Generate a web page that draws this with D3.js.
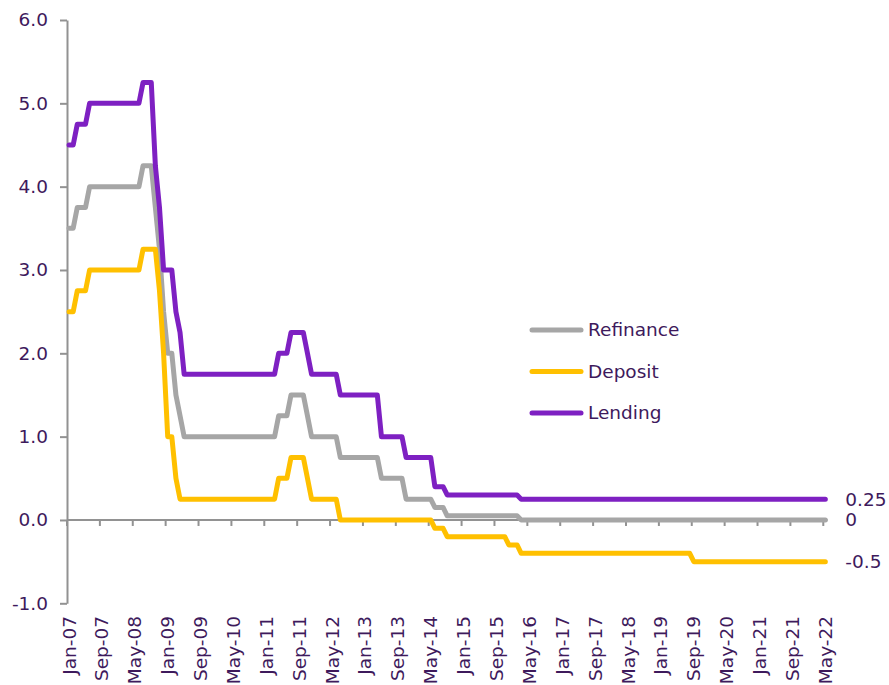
<!DOCTYPE html>
<html>
<head>
<meta charset="utf-8">
<script src="https://cdn.jsdelivr.net/npm/d3@7"></script>
<style>
  html, body { margin: 0; padding: 0; background: #fff; }
  svg { display: block; }
  text { font-family: "DejaVu Sans", Verdana, sans-serif; }
</style>
</head>
<body>
<svg id="chart" width="889" height="685"></svg>
<script>
// Monthly categories, Jan 2007 to May 2022
const categories = d3.utcMonth
  .range(new Date(Date.UTC(2007, 0, 1)), new Date(Date.UTC(2022, 5, 1)))
  .map(d3.utcFormat("%b-%y"));

// Axis labels shown every eighth month
const tickLabels = [
  "Jan-07", "Sep-07", "May-08", "Jan-09", "Sep-09", "May-10", "Jan-11", "Sep-11",
  "May-12", "Jan-13", "Sep-13", "May-14", "Jan-15", "Sep-15", "May-16", "Jan-17",
  "Sep-17", "May-18", "Jan-19", "Sep-19", "May-20", "Jan-21", "Sep-21", "May-22"
];
const yTicks = [-1, 0, 1, 2, 3, 4, 5, 6];

// Policy rates (%), month-end, one row per year
const refinance = [
  3.5, 3.5, 3.75, 3.75, 3.75, 4, 4, 4, 4, 4, 4, 4,
  4, 4, 4, 4, 4, 4, 4.25, 4.25, 4.25, 3.75, 3.25, 2.5,
  2, 2, 1.5, 1.25, 1, 1, 1, 1, 1, 1, 1, 1,
  1, 1, 1, 1, 1, 1, 1, 1, 1, 1, 1, 1,
  1, 1, 1, 1.25, 1.25, 1.25, 1.5, 1.5, 1.5, 1.5, 1.25, 1,
  1, 1, 1, 1, 1, 1, 0.75, 0.75, 0.75, 0.75, 0.75, 0.75,
  0.75, 0.75, 0.75, 0.75, 0.5, 0.5, 0.5, 0.5, 0.5, 0.5, 0.25, 0.25,
  0.25, 0.25, 0.25, 0.25, 0.25, 0.15, 0.15, 0.15, 0.05, 0.05, 0.05, 0.05,
  0.05, 0.05, 0.05, 0.05, 0.05, 0.05, 0.05, 0.05, 0.05, 0.05, 0.05, 0.05,
  0.05, 0.05, 0, 0, 0, 0, 0, 0, 0, 0, 0, 0,
  0, 0, 0, 0, 0, 0, 0, 0, 0, 0, 0, 0,
  0, 0, 0, 0, 0, 0, 0, 0, 0, 0, 0, 0,
  0, 0, 0, 0, 0, 0, 0, 0, 0, 0, 0, 0,
  0, 0, 0, 0, 0, 0, 0, 0, 0, 0, 0, 0,
  0, 0, 0, 0, 0, 0, 0, 0, 0, 0, 0, 0,
  0, 0, 0, 0, 0
];

const deposit = [
  2.5, 2.5, 2.75, 2.75, 2.75, 3, 3, 3, 3, 3, 3, 3,
  3, 3, 3, 3, 3, 3, 3.25, 3.25, 3.25, 3.25, 2.75, 2,
  1, 1, 0.5, 0.25, 0.25, 0.25, 0.25, 0.25, 0.25, 0.25, 0.25, 0.25,
  0.25, 0.25, 0.25, 0.25, 0.25, 0.25, 0.25, 0.25, 0.25, 0.25, 0.25, 0.25,
  0.25, 0.25, 0.25, 0.5, 0.5, 0.5, 0.75, 0.75, 0.75, 0.75, 0.5, 0.25,
  0.25, 0.25, 0.25, 0.25, 0.25, 0.25, 0, 0, 0, 0, 0, 0,
  0, 0, 0, 0, 0, 0, 0, 0, 0, 0, 0, 0,
  0, 0, 0, 0, 0, -0.1, -0.1, -0.1, -0.2, -0.2, -0.2, -0.2,
  -0.2, -0.2, -0.2, -0.2, -0.2, -0.2, -0.2, -0.2, -0.2, -0.2, -0.2, -0.3,
  -0.3, -0.3, -0.4, -0.4, -0.4, -0.4, -0.4, -0.4, -0.4, -0.4, -0.4, -0.4,
  -0.4, -0.4, -0.4, -0.4, -0.4, -0.4, -0.4, -0.4, -0.4, -0.4, -0.4, -0.4,
  -0.4, -0.4, -0.4, -0.4, -0.4, -0.4, -0.4, -0.4, -0.4, -0.4, -0.4, -0.4,
  -0.4, -0.4, -0.4, -0.4, -0.4, -0.4, -0.4, -0.4, -0.5, -0.5, -0.5, -0.5,
  -0.5, -0.5, -0.5, -0.5, -0.5, -0.5, -0.5, -0.5, -0.5, -0.5, -0.5, -0.5,
  -0.5, -0.5, -0.5, -0.5, -0.5, -0.5, -0.5, -0.5, -0.5, -0.5, -0.5, -0.5,
  -0.5, -0.5, -0.5, -0.5, -0.5
];

const lending = [
  4.5, 4.5, 4.75, 4.75, 4.75, 5, 5, 5, 5, 5, 5, 5,
  5, 5, 5, 5, 5, 5, 5.25, 5.25, 5.25, 4.25, 3.75, 3,
  3, 3, 2.5, 2.25, 1.75, 1.75, 1.75, 1.75, 1.75, 1.75, 1.75, 1.75,
  1.75, 1.75, 1.75, 1.75, 1.75, 1.75, 1.75, 1.75, 1.75, 1.75, 1.75, 1.75,
  1.75, 1.75, 1.75, 2, 2, 2, 2.25, 2.25, 2.25, 2.25, 2, 1.75,
  1.75, 1.75, 1.75, 1.75, 1.75, 1.75, 1.5, 1.5, 1.5, 1.5, 1.5, 1.5,
  1.5, 1.5, 1.5, 1.5, 1, 1, 1, 1, 1, 1, 0.75, 0.75,
  0.75, 0.75, 0.75, 0.75, 0.75, 0.4, 0.4, 0.4, 0.3, 0.3, 0.3, 0.3,
  0.3, 0.3, 0.3, 0.3, 0.3, 0.3, 0.3, 0.3, 0.3, 0.3, 0.3, 0.3,
  0.3, 0.3, 0.25, 0.25, 0.25, 0.25, 0.25, 0.25, 0.25, 0.25, 0.25, 0.25,
  0.25, 0.25, 0.25, 0.25, 0.25, 0.25, 0.25, 0.25, 0.25, 0.25, 0.25, 0.25,
  0.25, 0.25, 0.25, 0.25, 0.25, 0.25, 0.25, 0.25, 0.25, 0.25, 0.25, 0.25,
  0.25, 0.25, 0.25, 0.25, 0.25, 0.25, 0.25, 0.25, 0.25, 0.25, 0.25, 0.25,
  0.25, 0.25, 0.25, 0.25, 0.25, 0.25, 0.25, 0.25, 0.25, 0.25, 0.25, 0.25,
  0.25, 0.25, 0.25, 0.25, 0.25, 0.25, 0.25, 0.25, 0.25, 0.25, 0.25, 0.25,
  0.25, 0.25, 0.25, 0.25, 0.25
];

const seriesNames = ["Refinance", "Deposit", "Lending"];
const seriesColors = ["#a6a6a6", "#ffc000", "#7e20c2"];
const seriesValues = [refinance, deposit, lending];

// Layout
const textColor = "#3e1a5c";
const axisColor = "#929292";
const fontSize = 18.5;
const plotLeft = 67, plotRight = 827.4, plotTop = 20, plotBottom = 603.3;

const svg = d3.select("#chart");
svg.append("rect").attr("width", 889).attr("height", 685).attr("fill", "#fff");

const x = d3.scaleBand().domain(categories).range([plotLeft, plotRight]).padding(0);
const xc = c => x(c) + x.bandwidth() / 2;
const y = d3.scaleLinear().domain([-1, 6]).range([plotBottom, plotTop]);

// One decimal, plain hyphen for negatives
const fmtY = d => d3.format(".1f")(d).replace("\u2212", "-");

// Y axis
const yAxis = svg.append("g")
  .attr("transform", `translate(${plotLeft},0)`)
  .call(d3.axisLeft(y).tickValues(yTicks).tickSize(7).tickSizeOuter(0)
    .tickPadding(12).tickFormat(fmtY));
yAxis.select(".domain").attr("stroke", axisColor).attr("stroke-width", 2);
yAxis.selectAll(".tick line").attr("stroke", axisColor).attr("stroke-width", 2);
yAxis.selectAll(".tick text")
  .attr("fill", textColor)
  .style("font-size", fontSize + "px")
  .style("font-family", "'DejaVu Sans', Verdana, sans-serif");

// X axis along zero, ticks on month boundaries
const xAxis = svg.append("g");
xAxis.append("line")
  .attr("x1", plotLeft).attr("x2", plotRight)
  .attr("y1", y(0)).attr("y2", y(0))
  .attr("stroke", axisColor).attr("stroke-width", 2);
xAxis.selectAll("line.tick")
  .data(tickLabels)
  .join("line")
  .attr("class", "tick")
  .attr("x1", d => x(d)).attr("x2", d => x(d))
  .attr("y1", y(0)).attr("y2", y(0) + 6)
  .attr("stroke", axisColor).attr("stroke-width", 2);
xAxis.selectAll("text")
  .data(tickLabels)
  .join("text")
  .attr("transform", d => `translate(${xc(d)},616) rotate(-90)`)
  .attr("text-anchor", "end")
  .attr("dy", "0.35em")
  .attr("fill", textColor)
  .style("font-size", fontSize + "px")
  .text(d => d);

// Rate lines
const line = d3.line()
  .x((d, i) => xc(categories[i]))
  .y(d => y(d));

svg.append("g")
  .selectAll("path")
  .data(seriesValues)
  .join("path")
  .attr("d", d => line(d))
  .attr("fill", "none")
  .attr("stroke", (d, i) => seriesColors[i])
  .attr("stroke-width", 5)
  .attr("stroke-linejoin", "round")
  .attr("stroke-linecap", "round");

// Latest values at the right end
const last = categories[categories.length - 1];
svg.append("g")
  .selectAll("text")
  .data(seriesValues)
  .join("text")
  .attr("x", xc(last) + 20)
  .attr("y", d => y(d[d.length - 1]))
  .attr("dy", "0.35em")
  .attr("fill", textColor)
  .style("font-size", fontSize + "px")
  .text(d => String(d[d.length - 1]));

// Legend
const legend = svg.append("g").attr("transform", "translate(532,330)");
const item = legend.selectAll("g")
  .data(seriesNames)
  .join("g")
  .attr("transform", (d, i) => `translate(0,${i * 41.5})`);
item.append("line")
  .attr("x1", 0).attr("x2", 49)
  .attr("stroke", (d, i) => seriesColors[i])
  .attr("stroke-width", 5)
  .attr("stroke-linecap", "round");
item.append("text")
  .attr("x", 56)
  .attr("dy", "0.35em")
  .attr("fill", textColor)
  .style("font-size", fontSize + "px")
  .text(d => d);
</script>
</body>
</html>
